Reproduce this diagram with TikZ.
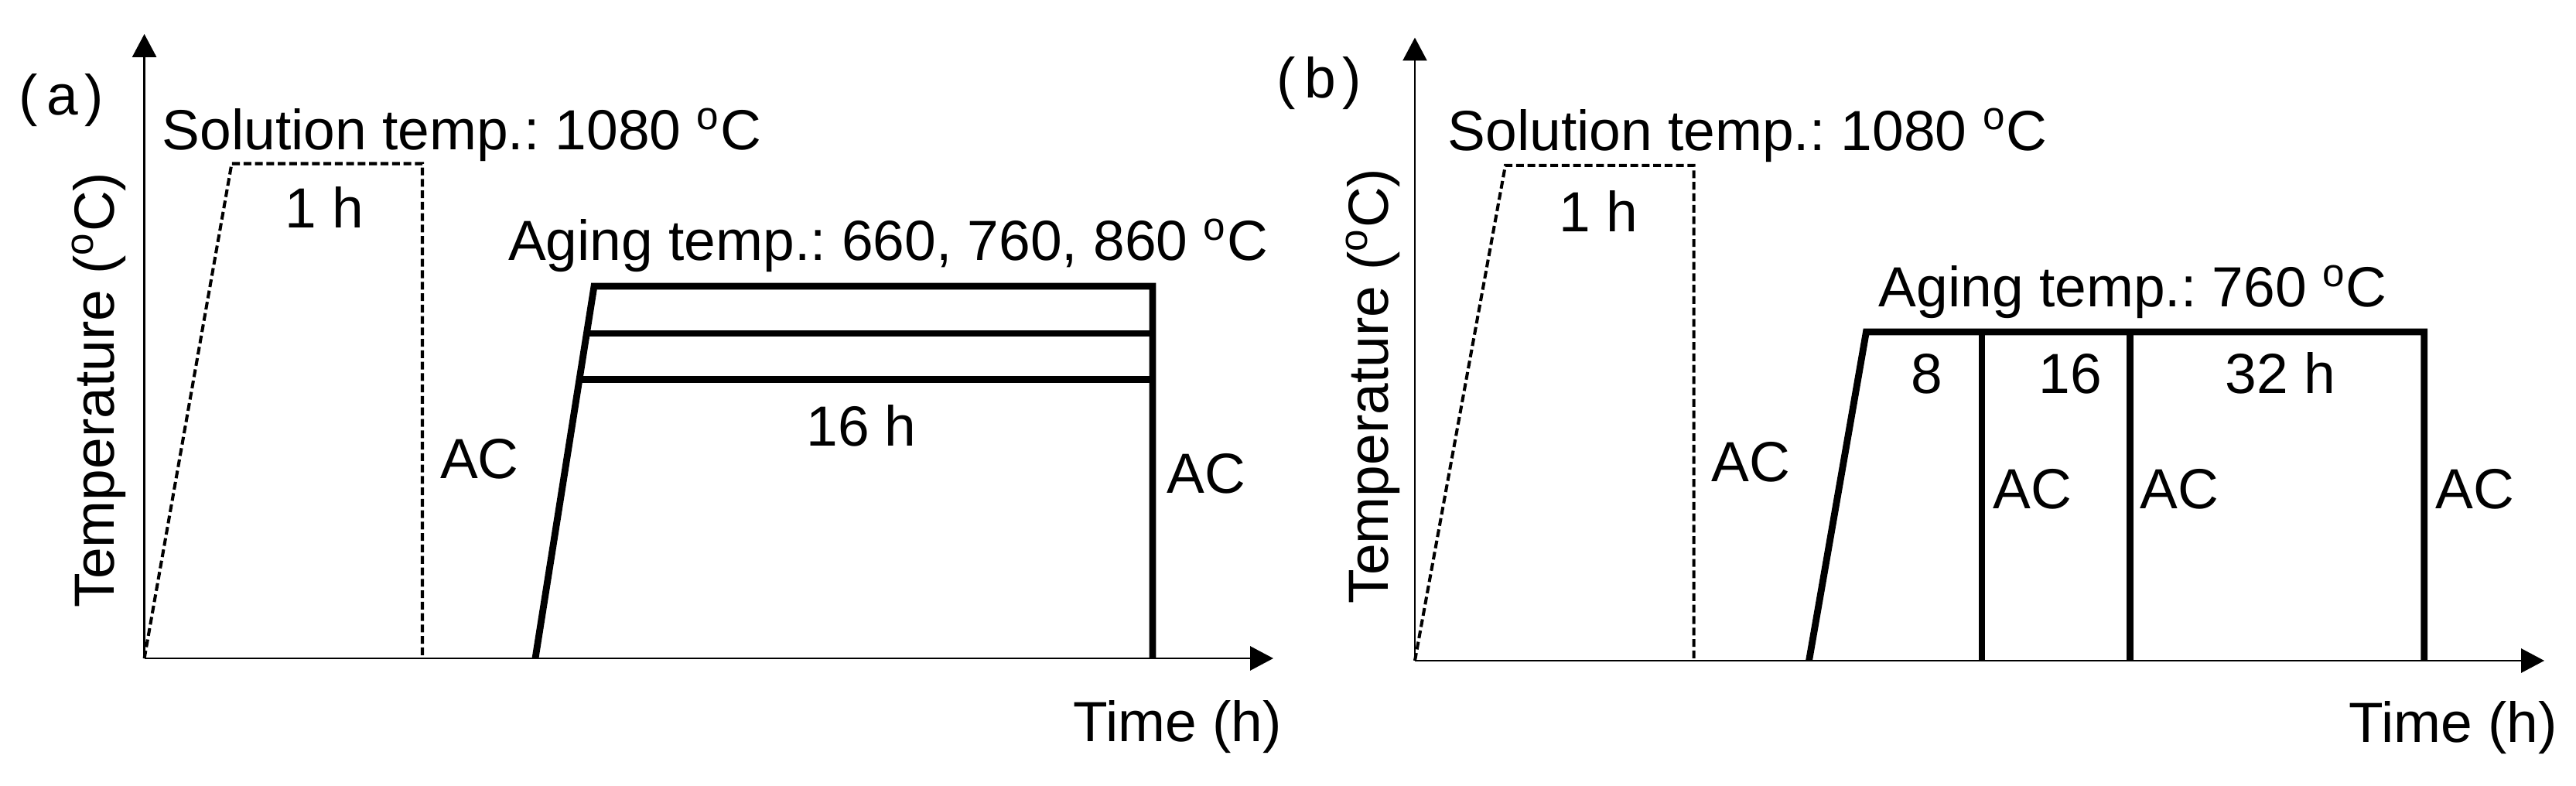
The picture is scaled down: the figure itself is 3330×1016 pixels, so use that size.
\documentclass[tikz,border=0pt]{standalone}
\usepackage{fontspec}
\setmainfont{Liberation Sans}
\usetikzlibrary{arrows.meta}
\tikzset{
  axis/.style={line width=0.8pt,-{Triangle[length=8.5pt,width=8.8pt]}},
  solution/.style={line width=1.15pt,dash pattern=on 2.85pt off 1.35pt},
  aging/.style={line width=2.5pt},
  lbl/.style={inner sep=0pt,anchor=base},
}
\newcommand{\degc}{\textsuperscript{o}C}
\newcommand{\tagtext}[1]{(\kern0.16em #1\kern0.12em)}
\frenchspacing
\begin{document}
\begin{tikzpicture}[x=0.01cm,y=-0.01cm,font=\fontsize{20.8}{25}\selectfont\frenchspacing]
  \useasboundingbox (0,0) rectangle (3330,1016);
  % (a)
  \coordinate (oa) at (186.6,851);
  \coordinate (ya) at (186.6,44);
  \coordinate (xa) at (1646,851);
  \coordinate (s1a) at (299.5,211.5);
  \coordinate (s2a) at (546,211.5);
  \coordinate (s3a) at (546,851);
  \coordinate (g0a) at (692,851);
  \coordinate (g1a) at (768,370);
  \coordinate (g2a) at (1490,370);
  \coordinate (g3a) at (1490,851);
  \coordinate (m1a) at (758.4,431);
  \coordinate (n1a) at (1490,431);
  \coordinate (m2a) at (749,490.5);
  \coordinate (n2a) at (1490,490.5);
  \draw[axis] (oa) -- (ya);
  \draw[axis] (oa) -- (xa);
  \draw[solution] (oa) -- (s1a) -- (s2a) -- (s3a);
  \draw[aging] (g0a) -- (g1a) -- (g2a) -- (g3a);
  \draw[aging] (m1a) -- (n1a);
  \draw[aging] (m2a) -- (n2a);
  \node[inner sep=0pt] (taga) at (79.5,130) {\tagtext{a}};
  \node[inner sep=0pt,rotate=90] (tempa) at (128,504) {Temperature (\degc)};
  \node[lbl,anchor=base west] (sola) at (209,194) {Solution temp.: 1080 \degc};
  \node[lbl] (h1a) at (419,295) {1 h};
  \node[lbl] (ac1a) at (620,619) {AC};
  \node[lbl] (agea) at (1148,337) {Aging temp.: 660, 760, 860 \degc};
  \node[lbl] (h16a) at (1113.5,577) {16 h};
  \node[lbl] (ac2a) at (1559,638) {AC};
  \node[lbl] (timea) at (1522,958) {Time (h)};
  % (b)
  \coordinate (ob) at (1829,854);
  \coordinate (yb) at (1829,48.6);
  \coordinate (xb) at (3289,854);
  \coordinate (s1b) at (1946,213.8);
  \coordinate (s2b) at (2189.5,213.8);
  \coordinate (s3b) at (2189.5,854);
  \coordinate (g0b) at (2338.5,854);
  \coordinate (g1b) at (2412.4,429);
  \coordinate (g2b) at (3133.7,429);
  \coordinate (g3b) at (3133.7,854);
  \coordinate (v1b) at (2562,429);
  \coordinate (w1b) at (2562,854);
  \coordinate (v2b) at (2753.3,429);
  \coordinate (w2b) at (2753.3,854);
  \draw[axis] (ob) -- (yb);
  \draw[axis] (ob) -- (xb);
  \draw[solution] (ob) -- (s1b) -- (s2b) -- (s3b);
  \draw[aging] (g0b) -- (g1b) -- (g2b) -- (g3b);
  \draw[aging] (v1b) -- (w1b);
  \draw[aging] (v2b) -- (w2b);
  \node[inner sep=0pt] (tagb) at (1705,108) {\tagtext{b}};
  \node[inner sep=0pt,rotate=90] (tempb) at (1775,499) {Temperature (\degc)};
  \node[lbl,anchor=base west] (solb) at (1871,194.4) {Solution temp.: 1080 \degc};
  \node[lbl] (h1b) at (2066.5,299.4) {1 h};
  \node[lbl] (ac1b) at (2263,623) {AC};
  \node[lbl] (ageb) at (2757,396.6) {Aging temp.: 760 \degc};
  \node[lbl] (h8b) at (2490.5,508.7) {8};
  \node[lbl] (h16b) at (2676,508.7) {16};
  \node[lbl] (h32b) at (2948,508.7) {32 h};
  \node[lbl] (ac2b) at (2627,657.7) {AC};
  \node[lbl] (ac3b) at (2817,657.7) {AC};
  \node[lbl] (ac4b) at (3199,657.7) {AC};
  \node[lbl] (timeb) at (3171,959) {Time (h)};
\end{tikzpicture}
\end{document}
